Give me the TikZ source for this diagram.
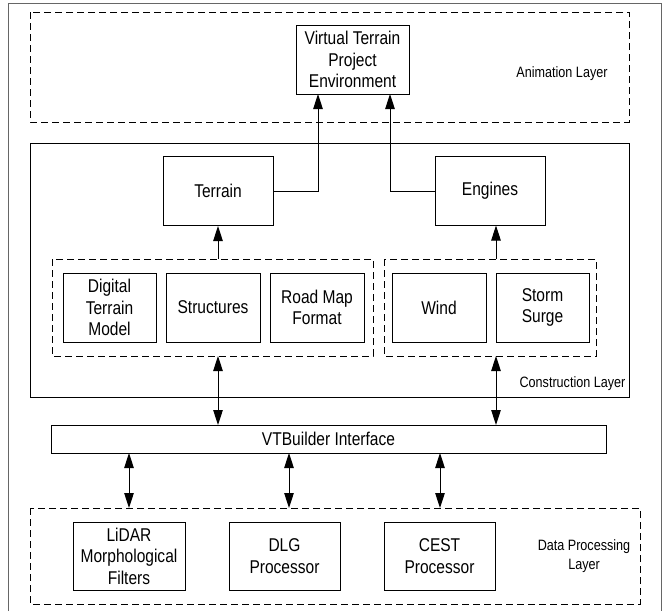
\documentclass[tikz,border=0pt]{standalone}
\usepackage{fontspec}
\setmainfont[FakeStretch=0.84]{Liberation Sans}
\usetikzlibrary{arrows.meta}
\begin{document}
\begin{tikzpicture}[x=1pt,y=-1pt,
  boxtxt/.style={font=\fontsize{18.5}{21.5}\selectfont, align=center},
  lbltxt/.style={font=\fontsize{15}{19}\selectfont, align=center},
  box/.style={draw, line width=1pt, inner sep=0pt, boxtxt},
  dashbox/.style={draw, line width=1pt, dash pattern=on 7pt off 4pt},
  arr/.style={line width=1pt, -{Triangle[length=15pt,width=9.5pt]}},
  darr/.style={line width=1pt, {Triangle[length=15pt,width=9.5pt]}-{Triangle[length=15pt,width=9.5pt]}}]
\useasboundingbox (0,0) rectangle (663,611);
% outer frame
\draw[black!60, line width=1pt] (8,611) -- (8,3) -- (661,3) -- (661,611);
% layers
\draw[dashbox] (30,12) rectangle (629,122);
\draw[line width=1pt] (30,143) rectangle (629,397);
\draw[dashbox] (52,259) rectangle (373,356);
\draw[dashbox] (384,259) rectangle (596,356);
\draw[dashbox] (30,508) rectangle (640,604);
% nodes
\node[box, minimum width=113pt, minimum height=69pt] (vtp) at (352.5,59.5) {Virtual Terrain\\Project\\Environment};
\node[lbltxt] (anim) at (562,74) {Animation Layer};
\node[box, minimum width=110pt, minimum height=69pt] (terrain) at (218,191) {Terrain};
\node[box, minimum width=110pt, minimum height=69pt] (engines) at (490,191) {Engines};
\node[box, minimum width=93pt, minimum height=69pt] (dtm) at (109.5,307.5) {Digital\\Terrain\\Model};
\node[box, minimum width=94pt, minimum height=69pt] (struct) at (213,307.5) {Structures};
\node[box, minimum width=94pt, minimum height=69pt] (road) at (317,307.5) {Road Map\\Format};
\node[box, minimum width=94pt, minimum height=69pt] (wind) at (439,307.5) {Wind};
\node[box, minimum width=93pt, minimum height=69pt] (storm) at (542.5,307.5) {Storm\\Surge};
\node[lbltxt] (constr) at (572.5,384) {Construction Layer};
\node[box, minimum width=555pt, minimum height=28pt] (vtb) at (328.5,439) {VTBuilder Interface};
\node[box, minimum width=112pt, minimum height=68pt] (lidar) at (129,556) {LiDAR\\Morphological\\Filters};
\node[box, minimum width=111pt, minimum height=68pt] (dlg) at (284.5,556) {DLG\\Processor};
\node[box, minimum width=111pt, minimum height=68pt] (cest) at (439.5,556) {CEST\\Processor};
\node[lbltxt] (dpl) at (584,556.5) {Data Processing\\Layer};
% coordinates
\coordinate (vtpL) at (318,94);
\coordinate (vtpR) at (390,94);
\coordinate (g1t) at (218,259);
\coordinate (g2t) at (496,259);
\coordinate (g1b) at (218,356);
\coordinate (g2b) at (496,356);
\coordinate (vtbA) at (218,425);
\coordinate (vtbB) at (496,425);
\coordinate (vtbC) at (129,453);
\coordinate (vtbD) at (289,453);
\coordinate (vtbE) at (440,453);
\coordinate (dpA) at (129,508);
\coordinate (dpB) at (289,508);
\coordinate (dpC) at (440,508);
\coordinate (engB) at (496,225.5);
% connectors
\draw[arr] (terrain.east) -| (vtpL);
\draw[arr] (engines.west) -| (vtpR);
\draw[arr] (g1t) -- (terrain.south);
\draw[arr] (g2t) -- (engB);
\draw[darr] (g1b) -- (vtbA);
\draw[darr] (g2b) -- (vtbB);
\draw[darr] (vtbC) -- (dpA);
\draw[darr] (vtbD) -- (dpB);
\draw[darr] (vtbE) -- (dpC);
\end{tikzpicture}
\end{document}
